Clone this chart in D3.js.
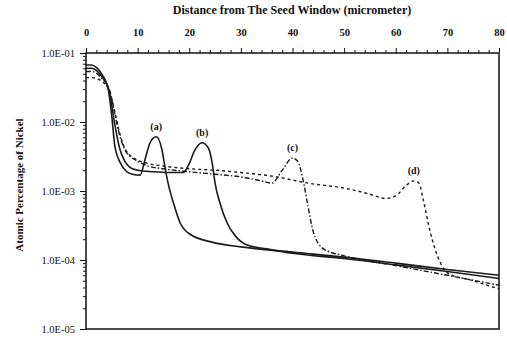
<!DOCTYPE html>
<html>
<head>
<meta charset="utf-8">
<script src="https://cdn.jsdelivr.net/npm/d3@7"></script>
<style>
  body { margin: 0; background: #fff; }
  svg text { font-family: "Liberation Serif", "DejaVu Serif", serif; fill: #111; }
  .axis path, .axis line { stroke: #111; }
</style>
</head>
<body>
<svg id="chart" width="507" height="340"></svg>
<script>
// x positions (micrometer) and atomic percentage of nickel for each profile
var aX = [0, 1, 2, 3, 4.3, 5.0, 5.6, 6.6, 7.9, 9, 10.5, 11.4, 12.4, 13.6, 14.7, 15.3, 15.9, 17, 18.2, 20, 24.6, 30, 40, 50, 60, 70, 80];
var aY = [6.7e-2, 6.7e-2, 6.2e-2, 5.0e-2, 3.0e-2, 1.2e-2, 4.4e-3, 2.6e-3, 1.9e-3, 1.75e-3, 1.7e-3, 2.8e-3, 5.0e-3, 6.1e-3, 4.0e-3, 2.2e-3, 1.3e-3, 6.5e-4, 3.5e-4, 2.4e-4, 1.8e-4, 1.55e-4, 1.3e-4, 1.1e-4, 9.0e-5, 7.3e-5, 6.0e-5];

var bX = [0, 1, 2, 3, 4.5, 5.5, 6.5, 7.5, 8.5, 10, 13, 16, 18.8, 20, 21, 22.5, 23.7, 24.5, 25, 26, 27.3, 29, 31.2, 35, 40, 50, 60, 70, 80];
var bY = [6.0e-2, 6.0e-2, 5.6e-2, 4.6e-2, 2.8e-2, 1.0e-2, 4.2e-3, 2.7e-3, 2.2e-3, 2.0e-3, 1.9e-3, 1.85e-3, 1.85e-3, 2.5e-3, 3.8e-3, 5.0e-3, 4.2e-3, 2.4e-3, 1.3e-3, 6.5e-4, 3.5e-4, 2.2e-4, 1.65e-4, 1.45e-4, 1.25e-4, 1.05e-4, 8.5e-5, 6.8e-5, 5.4e-5];

var cX = [0, 1, 2, 3, 4.5, 5.5, 6.5, 7.5, 8.5, 10, 12, 15, 20, 25, 30, 34, 36, 38, 40, 41, 42, 43, 44, 46, 50, 60, 70, 80];
var cY = [5.4e-2, 5.4e-2, 5.1e-2, 4.3e-2, 3.0e-2, 1.4e-2, 6.5e-3, 4.0e-3, 3.2e-3, 2.7e-3, 2.3e-3, 2.1e-3, 1.9e-3, 1.75e-3, 1.6e-3, 1.4e-3, 1.3e-3, 2.0e-3, 3.0e-3, 2.7e-3, 1.5e-3, 6.0e-4, 2.6e-4, 1.45e-4, 1.15e-4, 8.3e-5, 6.0e-5, 4.3e-5];

var dX = [0, 1, 2, 3, 4.5, 5.5, 6.5, 7.5, 8.5, 10, 12, 15, 20, 25, 30, 37, 43, 50, 55, 58, 60, 62, 63.5, 64.5, 65.3, 66.7, 68.6, 70, 75, 80];
var dY = [4.4e-2, 4.4e-2, 4.3e-2, 3.9e-2, 2.9e-2, 1.5e-2, 7.0e-3, 4.2e-3, 3.3e-3, 2.8e-3, 2.5e-3, 2.3e-3, 2.1e-3, 2.0e-3, 1.85e-3, 1.6e-3, 1.3e-3, 1.1e-3, 9.0e-4, 7.8e-4, 8.5e-4, 1.2e-3, 1.4e-3, 1.3e-3, 7.6e-4, 2.5e-4, 9.3e-5, 6.5e-5, 5.0e-5, 3.8e-5];

var seriesNames = ["(a)", "(b)", "(c)", "(d)"];
var xTicks = [0, 10, 20, 30, 40, 50, 60, 70, 80];
var yTicks = [1e-1, 1e-2, 1e-3, 1e-4, 1e-5];

(function() {
  var series = [
    { name: seriesNames[0], xs: aX, ys: aY, dash: null },
    { name: seriesNames[1], xs: bX, ys: bY, dash: null },
    { name: seriesNames[2], xs: cX, ys: cY, dash: "5,2,1.5,2" },
    { name: seriesNames[3], xs: dX, ys: dY, dash: "3,3" }
  ];

  var svg = d3.select("#chart");
  var mLeft = 86, mRight = 499, mTop = 53, mBottom = 329;

  var x = d3.scaleLinear().domain([0, 80]).range([mLeft, mRight]);
  var y = d3.scaleLog().domain([1e-5, 1e-1]).range([mBottom, mTop]);

  // frame
  svg.append("rect")
    .attr("x", mLeft).attr("y", mTop)
    .attr("width", mRight - mLeft).attr("height", mBottom - mTop)
    .attr("fill", "none").attr("stroke", "#111").attr("stroke-width", 1.5);

  // top axis
  var xAxis = d3.axisTop(x)
    .tickValues(d3.range(0, 81, 2))
    .tickSize(3)
    .tickPadding(14)
    .tickFormat(function(d) { return xTicks.indexOf(d) >= 0 ? d : ""; });

  var gx = svg.append("g")
    .attr("class", "axis")
    .attr("transform", "translate(0," + mTop + ")")
    .call(xAxis);
  gx.select(".domain").remove();
  gx.selectAll(".tick line")
    .attr("y2", function(d) { return d % 10 === 0 ? -5 : -3; });
  gx.selectAll(".tick text")
    .attr("font-size", 10.5).attr("font-weight", "bold");

  // left axis, log ticks
  var isMajor = function(d) {
    var l = Math.log10(d);
    return Math.abs(l - Math.round(l)) < 1e-6;
  };
  var yAxis = d3.axisLeft(y)
    .tickValues(y.ticks())
    .tickSize(3)
    .tickPadding(8)
    .tickFormat(function(d) {
      return isMajor(d) ? "1.0E-0" + (-Math.round(Math.log10(d))) : "";
    });

  var gy = svg.append("g")
    .attr("class", "axis")
    .attr("transform", "translate(" + mLeft + ",0)")
    .call(yAxis);
  gy.select(".domain").remove();
  gy.selectAll(".tick line")
    .attr("x2", function(d) { return isMajor(d) ? -6 : -3; });
  gy.selectAll(".tick text")
    .attr("font-size", 10.5);

  // titles
  svg.append("text")
    .attr("x", 292).attr("y", 14)
    .attr("text-anchor", "middle")
    .attr("font-size", 12).attr("font-weight", "bold")
    .text("Distance from The Seed Window (micrometer)");

  svg.append("text")
    .attr("transform", "translate(23,185) rotate(-90)")
    .attr("text-anchor", "middle")
    .attr("font-size", 11).attr("font-weight", "bold")
    .text("Atomic Percentage of Nickel");

  // curves
  var line = d3.line()
    .x(function(d) { return x(d[0]); })
    .y(function(d) { return y(d[1]); })
    .curve(d3.curveMonotoneX);

  series.forEach(function(s) {
    var pts = d3.zip(s.xs, s.ys);
    svg.append("path")
      .datum(pts)
      .attr("d", line)
      .attr("fill", "none")
      .attr("stroke", "#1a1a1a")
      .attr("stroke-width", s.dash ? 1.4 : 1.6)
      .attr("stroke-dasharray", s.dash);

    // label above the secondary peak (first local maximum past x = 9)
    var peak = pts[0];
    for (var i = 1; i < pts.length - 1; i++) {
      if (pts[i][0] > 9 && pts[i][1] > pts[i - 1][1] && pts[i][1] >= pts[i + 1][1]) {
        peak = pts[i];
        break;
      }
    }
    svg.append("text")
      .attr("x", x(peak[0]))
      .attr("y", y(peak[1]) - 7)
      .attr("text-anchor", "middle")
      .attr("font-size", 10).attr("font-weight", "bold")
      .text(s.name);
  });
})();
</script>
</body>
</html>
